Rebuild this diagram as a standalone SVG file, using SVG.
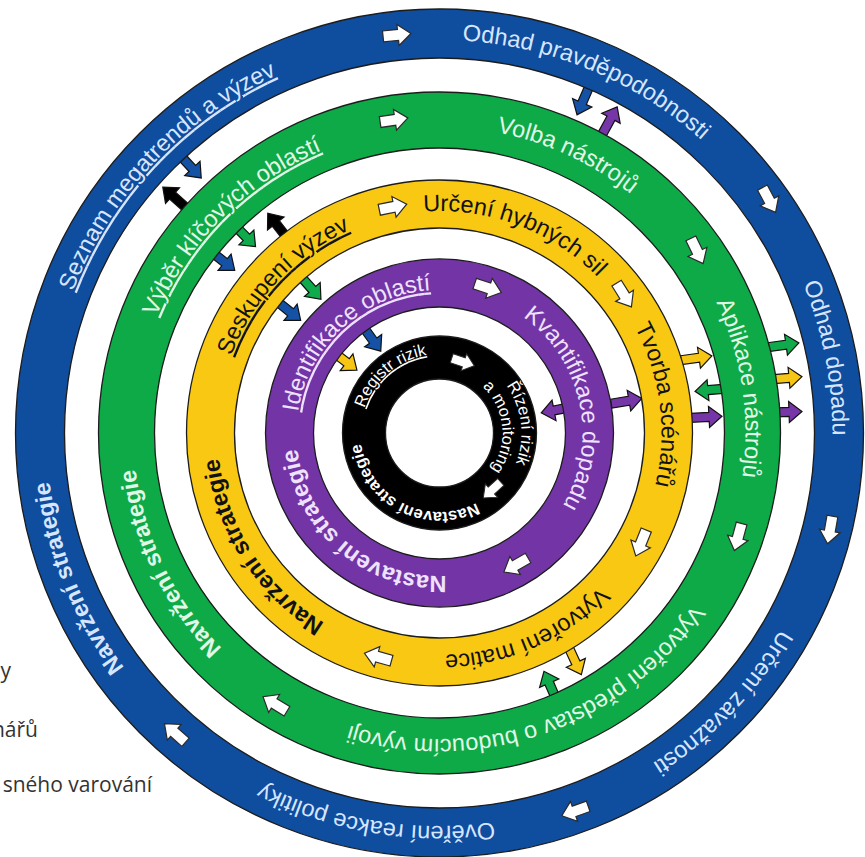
<svg xmlns="http://www.w3.org/2000/svg" xmlns:xlink="http://www.w3.org/1999/xlink" width="865" height="857" viewBox="0 0 865 857">
<style>
.ring{fill-rule:evenodd;stroke:#1c1c1c;stroke-width:1.3}
.lbl{font-family:"Liberation Sans",Arial,Helvetica,sans-serif;font-size:23.5px}
.sm{font-family:"Liberation Sans",Arial,Helvetica,sans-serif;font-size:16.5px;fill:#fff}
.bold{font-weight:bold}
.u{text-decoration:underline}
.wa{fill:#fff;stroke:#2a2a2a;stroke-width:1.2}
.ca{stroke:#111;stroke-width:1.2}
.cB{fill:#1552a6}.cG{fill:#10a94b}.cY{fill:#f7c514}.cP{fill:#7636a8}.cK{fill:#000}
.legend{font-family:"Open Sans","Noto Sans",sans-serif;font-size:21px;fill:#333}
</style>
<defs>
<path id="carr" d="M-16,-4.5 H2 V-10.5 L15,0 L2,10.5 V4.5 H-16 Z"/>
<path id="warr" d="M-14,-5.5 H1 V-10.5 L14,0 L1,10.5 V5.5 H-14 Z"/>
<path id="pB" d="M439.5,826 A393,393 0 1 1 439.5,40 A393,393 0 1 1 439.5,826 A393,393 0 1 1 439.5,40 A393,393 0 1 1 439.5,826"/>
<path id="pG" d="M439.5,739 A306,306 0 1 1 439.5,127 A306,306 0 1 1 439.5,739 A306,306 0 1 1 439.5,127 A306,306 0 1 1 439.5,739"/>
<path id="pY" d="M439.5,655 A222,222 0 1 1 439.5,211 A222,222 0 1 1 439.5,655 A222,222 0 1 1 439.5,211 A222,222 0 1 1 439.5,655"/>
<path id="pP" d="M439.5,576 A143,143 0 1 1 439.5,290 A143,143 0 1 1 439.5,576 A143,143 0 1 1 439.5,290 A143,143 0 1 1 439.5,576"/>
<path id="pK1" d="M439.5,512 A79,79 0 1 1 439.5,354 A79,79 0 1 1 439.5,512 A79,79 0 1 1 439.5,354 A79,79 0 1 1 439.5,512"/>
<path id="pK2" d="M439.5,515 A82,82 0 1 1 439.5,351 A82,82 0 1 1 439.5,515 A82,82 0 1 1 439.5,351 A82,82 0 1 1 439.5,515"/>
<path id="pK3" d="M439.5,496 A63,63 0 1 1 439.5,370 A63,63 0 1 1 439.5,496 A63,63 0 1 1 439.5,370 A63,63 0 1 1 439.5,496"/>
</defs>

<g id="legend">
<text class="legend" x="11" y="678" text-anchor="end">y</text>
<text class="legend" x="38" y="737" text-anchor="end">nářů</text>
<text class="legend" x="152" y="792" text-anchor="end">sného varování</text>
</g>

<g id="connectors">
<use href="#carr" class="ca cB" transform="translate(191,167) rotate(46.9)"/>
<use href="#carr" class="ca cK" transform="translate(174,197) rotate(221.6)"/>
<use href="#carr" class="ca cB" transform="translate(583,101) rotate(113.4)"/>
<use href="#carr" class="ca cP" transform="translate(610,120) rotate(298.6)"/>
<use href="#carr" class="ca cG" transform="translate(784,345) rotate(-8)"/>
<use href="#carr" class="ca cY" transform="translate(787,378) rotate(-5)"/>
<use href="#carr" class="ca cP" transform="translate(787,412) rotate(-2)"/>
<use href="#carr" class="ca cG" transform="translate(245,236) rotate(45.4)"/>
<use href="#carr" class="ca cB" transform="translate(223,261) rotate(38.5)"/>
<use href="#carr" class="ca cK" transform="translate(277,225) rotate(232)"/>
<use href="#carr" class="ca cY" transform="translate(697,358) rotate(-8)"/>
<use href="#carr" class="ca cG" transform="translate(710,390) rotate(175)"/>
<use href="#carr" class="ca cP" transform="translate(707,417) rotate(-3)"/>
<use href="#carr" class="ca cY" transform="translate(575,661) rotate(65)"/>
<use href="#carr" class="ca cG" transform="translate(550,685) rotate(246.3)"/>
<use href="#carr" class="ca cG" transform="translate(311,288) rotate(48.5)"/>
<use href="#carr" class="ca cB" transform="translate(289,311) rotate(39)"/>
<use href="#carr" class="ca cP" transform="translate(627,401) rotate(-9.7)"/>
<use href="#carr" class="ca cB" transform="translate(372,339) rotate(54.3)"/>
<use href="#carr" class="ca cY" transform="translate(345,361) rotate(37.3)"/>
<use href="#carr" class="ca cP" transform="translate(556,410) rotate(169)"/>
</g>

<g id="ring-blue">
<path class="ring" fill="#0f4d9f" d="M15.5,433 a424,424 0 1 0 848,0 a424,424 0 1 0 -848,0 Z M64.5,433 a375,375 0 1 0 750,0 a375,375 0 1 0 -750,0 Z"/>
<text class="lbl" fill="#d6e6ff" text-anchor="middle"><textPath href="#pB" startOffset="914" class="u">Seznam megatrendů a výzev</textPath></text>
<text class="lbl" fill="#d6e6ff" text-anchor="middle"><textPath href="#pB" startOffset="1389">Odhad pravděpodobnosti</textPath></text>
<text class="lbl" fill="#d6e6ff" text-anchor="middle"><textPath href="#pB" startOffset="1776">Odhad dopadu</textPath></text>
<text class="lbl" fill="#d6e6ff" text-anchor="middle"><textPath href="#pB" startOffset="2150">Určení závažnosti</textPath></text>
<text class="lbl" fill="#d6e6ff" text-anchor="middle"><textPath href="#pB" startOffset="2533">Ověření reakce politiky</textPath></text>
<text class="lbl bold" fill="#d6e6ff" text-anchor="middle"><textPath href="#pB" startOffset="467">Navržení strategie</textPath></text>
<use href="#warr" class="wa" transform="translate(397,35) rotate(353.9)"/>
<use href="#warr" class="wa" transform="translate(769,200) rotate(62)"/>
<use href="#warr" class="wa" transform="translate(830,530) rotate(100)"/>
<use href="#warr" class="wa" transform="translate(575,811) rotate(160.3)"/>
<use href="#warr" class="wa" transform="translate(175,733) rotate(221.4)"/>
</g>

<g id="ring-green">
<path class="ring" fill="#0eaa48" d="M98.5,433 a341,341 0 1 0 682,0 a341,341 0 1 0 -682,0 Z M154.5,433 a285,285 0 1 0 570,0 a285,285 0 1 0 -570,0 Z"/>
<text class="lbl" fill="#e2f8e7" text-anchor="middle"><textPath href="#pG" startOffset="720" class="u">Výběr klíčových oblastí</textPath></text>
<text class="lbl" fill="#e2f8e7" text-anchor="middle"><textPath href="#pG" startOffset="1093">Volba nástrojů</textPath></text>
<text class="lbl" fill="#e2f8e7" text-anchor="middle"><textPath href="#pG" startOffset="1396">Aplikace nástrojů</textPath></text>
<text class="lbl" fill="#e2f8e7" text-anchor="middle"><textPath href="#pG" startOffset="1818">Vytvoření představ o budoucím vývoji</textPath></text>
<text class="lbl bold" fill="#e2f8e7" text-anchor="middle"><textPath href="#pG" startOffset="343">Navržení strategie</textPath></text>
<use href="#warr" class="wa" transform="translate(394,120) rotate(351.7)"/>
<use href="#warr" class="wa" transform="translate(697,251) rotate(64)"/>
<use href="#warr" class="wa" transform="translate(738,537) rotate(105)"/>
<use href="#warr" class="wa" transform="translate(275,704) rotate(211.3)"/>
</g>

<g id="ring-yellow">
<path class="ring" fill="#f8c812" d="M186.5,433 a253,253 0 1 0 506,0 a253,253 0 1 0 -506,0 Z M234.5,433 a205,205 0 1 0 410,0 a205,205 0 1 0 -410,0 Z"/>
<text class="lbl" fill="#111" text-anchor="middle"><textPath href="#pY" startOffset="516" class="u">Seskupení výzev</textPath></text>
<text class="lbl" fill="#111" text-anchor="middle"><textPath href="#pY" startOffset="777">Určení hybných sil</textPath></text>
<text class="lbl" fill="#111" text-anchor="middle"><textPath href="#pY" startOffset="1017">Tvorba scénářů</textPath></text>
<text class="lbl" fill="#111" text-anchor="middle"><textPath href="#pY" startOffset="1302">Vytvoření matice</textPath></text>
<text class="lbl bold" fill="#111" text-anchor="middle"><textPath href="#pY" startOffset="222">Navržení strategie</textPath></text>
<use href="#warr" class="wa" transform="translate(393,207) rotate(348.4)"/>
<use href="#warr" class="wa" transform="translate(624,295) rotate(58)"/>
<use href="#warr" class="wa" transform="translate(641,543) rotate(112)"/>
<use href="#warr" class="wa" transform="translate(378,657) rotate(195.4)"/>
</g>

<g id="ring-purple">
<path class="ring" fill="#7335a6" d="M265.5,433 a174,174 0 1 0 348,0 a174,174 0 1 0 -348,0 Z M313.5,433 a126,126 0 1 0 252,0 a126,126 0 1 0 -252,0 Z"/>
<text class="lbl" fill="#efe2ff" font-size="23" text-anchor="middle"><textPath href="#pP" startOffset="343" class="u">Identifikace oblastí</textPath></text>
<text class="lbl" fill="#efe2ff" text-anchor="middle"><textPath href="#pP" startOffset="644">Kvantifikace dopadu</textPath></text>
<text class="lbl bold" fill="#efe2ff" text-anchor="middle"><textPath href="#pP" startOffset="999">Nastavení strategie</textPath></text>
<use href="#warr" class="wa" transform="translate(488,288) rotate(18.5)"/>
<use href="#warr" class="wa" transform="translate(516,565) rotate(149.9)"/>
</g>

<g id="ring-black">
<path class="ring" fill="#000" d="M342.5,433 a97,97 0 1 0 194,0 a97,97 0 1 0 -194,0 Z M385.5,433 a54,54 0 1 0 108,0 a54,54 0 1 0 -108,0 Z"/>
<text class="sm" text-anchor="middle"><textPath href="#pK1" startOffset="192" class="u">Registr rizik</textPath></text>
<text class="sm" text-anchor="middle"><textPath href="#pK2" startOffset="376">Řízení rizik</textPath></text>
<text class="sm" text-anchor="middle"><textPath href="#pK3" startOffset="290">a monitoring</textPath></text>
<text class="sm bold" text-anchor="middle"><textPath href="#pK1" startOffset="533">Nastavení strategie</textPath></text>
<use href="#warr" class="wa" transform="translate(463,362) rotate(18.3) scale(0.85)"/>
<use href="#warr" class="wa" transform="translate(492,490) rotate(137.4) scale(0.85)"/>
</g>
</svg>
